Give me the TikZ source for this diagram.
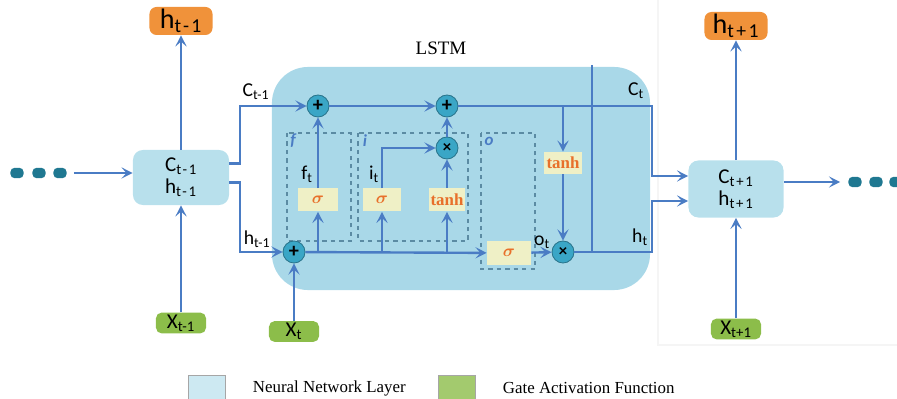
\documentclass[tikz,border=0pt]{standalone}
\usepackage{bm}
\usepackage{fontspec}
\setmainfont{Carlito}
\newfontfamily\seriffont{Liberation Serif}
\usetikzlibrary{positioning,arrows.meta,calc}
\definecolor{lstmblue}{HTML}{A9D8E8}
\definecolor{cellblue}{HTML}{B8E0EC}
\definecolor{linkblue}{HTML}{4A7CC4}
\definecolor{outorange}{HTML}{F0923A}
\definecolor{ingreen}{HTML}{8CBD4A}
\definecolor{opteal}{HTML}{3AA6C6}
\definecolor{actyellow}{HTML}{EFF0C6}
\definecolor{acttext}{HTML}{E8702A}
\definecolor{gatedash}{HTML}{5B8BA3}
\definecolor{dotteal}{HTML}{1F7891}
\newcommand{\sublbl}[2]{#1\textsubscript{#2}}
\newcommand{\widesub}[2]{#1\textsubscript{\addfontfeatures{LetterSpace=12}#2}}

\begin{document}
\begin{tikzpicture}[x=0.025cm,y=-0.025cm,
  flow/.style={-{Stealth[length=8pt,width=8pt,inset=3.5pt]},line width=1.7pt,draw=linkblue},
  link/.style={line width=1.7pt,draw=linkblue},
  cellbox/.style={fill=cellblue,rounded corners=7pt,align=center,inner sep=0pt,
    font=\fontsize{15}{15.5}\selectfont},
  outbox/.style={fill=outorange,rounded corners=5pt,inner sep=0pt,
    minimum width=1.575cm,minimum height=0.7cm,font=\fontsize{20}{21}\selectfont},
  inbox/.style={fill=ingreen,rounded corners=4pt,inner sep=0pt,
    minimum width=1.25cm,minimum height=0.52cm,font=\fontsize{15}{16}\selectfont},
  opnode/.style={circle,fill=opteal,draw=opteal!70!black,line width=0.6pt,
    minimum size=0.55cm,inner sep=0pt,font=\bfseries\Large},
  actbox/.style={fill=actyellow,inner sep=0pt,minimum height=0.575cm,
    text=acttext,font=\seriffont\bfseries\fontsize{12}{13}\selectfont},
  gatebox/.style={draw=gatedash,dashed,line width=0.9pt},
  gatelbl/.style={text=linkblue,font=\bfseries\itshape\fontsize{12}{13}\selectfont},
  lbl/.style={font=\fontsize{14}{15}\selectfont},
  seqdot/.style={fill=dotteal,rounded corners=3pt,minimum width=0.33cm,
    minimum height=0.26cm,inner sep=0pt}]
  \useasboundingbox (0,0) rectangle (897,399);
  % faint frame of the next step
  \draw[gray!8,line width=0.8pt] (658,0) -- (658,345) -- (897,345);
  % LSTM block
  \node[fill=lstmblue,rounded corners=0.9cm,minimum width=9.45cm,
    minimum height=5.575cm] (lstm) at (461,178.5) {};
  \node[font=\seriffont\fontsize{13.5}{14}\selectfont] (title) at (441,48) {LSTM};
  % gates
  \draw[gatebox] (287,133) rectangle (351,241);
  \draw[gatebox] (358,133) rectangle (468,241);
  \draw[gatebox] (481,133) rectangle (535,269);
  \node[gatelbl] (fg) at (293,141) {f};
  \node[gatelbl] (ig) at (365,141) {i};
  \node[gatelbl] (og) at (489,141) {o};
  % cells before and after
  \node[cellbox,minimum width=2.4cm,minimum height=1.375cm] (prev) at (181,177.5)
    {\widesub{C}{t-1}\\\widesub{h}{t-1}};
  \node[cellbox,minimum width=2.375cm,minimum height=1.425cm] (next) at (736,189)
    {\widesub{C}{t+1}\\\widesub{h}{t+1}};
  \node[outbox] (hprev) at (181,21) {\widesub{h}{t-1}};
  \node[outbox] (hnext) at (736,26) {\widesub{h}{t+1}};
  \node[inbox] (xprev) at (181,323) {\sublbl{X}{t-1}};
  \node[inbox] (xcur) at (294,331.5) {\sublbl{X}{t}};
  \node[inbox] (xnext) at (736,329) {\sublbl{X}{t+1}};
  % sequence dots
  \node[seqdot] (dl1) at (17,173) {};
  \node[seqdot] (dl2) at (39,173) {};
  \node[seqdot] (dl3) at (60,173) {};
  \node[seqdot] (dr1) at (855,182) {};
  \node[seqdot] (dr2) at (876,182) {};
  \node[seqdot] (dr3) at (896,182) {};
  % operations
  \node[opnode] (plusA) at (318,106) {+};
  \node[opnode] (plusB) at (447,106) {+};
  \node[opnode] (mulI) at (447,148) {\large ×};
  \node[opnode] (plusX) at (294,252) {+};
  \node[opnode] (mulO) at (563,252) {\large ×};
  \node[actbox,minimum width=0.975cm] (sigF) at (318,200) {$\bm{\sigma}$};
  \node[actbox,minimum width=0.95cm] (sigI) at (382,200) {$\bm{\sigma}$};
  \node[actbox,minimum width=0.9cm] (tanhI) at (447,200) {tanh};
  \node[actbox,minimum width=1.1cm,minimum height=0.6cm] (sigO) at (509,253) {$\bm{\sigma}$};
  \node[actbox,minimum width=0.95cm,minimum height=0.55cm] (tanhO) at (563,163) {tanh};
  % inputs and outputs of the cells
  \draw[flow] (dl3.east) ++(7,0) -- (prev.west |- dl3);
  \draw[flow] (xprev) -- (prev);
  \draw[flow] (prev) -- (hprev);
  \draw[flow] ($(prev.east)+(0,-14)$) -- ++(11,0) |- (plusA);
  \draw[flow] ($(prev.east)+(0,5)$) -- ++(11,0) |- (plusX);
  \draw[flow] (xcur) -- (plusX);
  \draw[flow] (xnext) -- (next);
  \draw[flow] (next) -- (hnext);
  \draw[flow] (next.east |- dr1) -- ($(dr1.west)+(-8,0)$);
  % cell state line
  \draw[flow] (plusA) -- (plusB);
  \draw[flow] (plusB) -| ($(next.west)+(-36,-13)$) -- ($(next.west)+(0,-13)$);
  \draw[flow] (tanhO |- plusB) -- (tanhO);
  \draw[flow] (tanhO) -- (mulO);
  % hidden line
  \draw[flow] (plusX) -- (sigO);
  \draw[flow] (sigF |- plusX) -- (sigF);
  \draw[flow] (sigI |- plusX) -- (sigI);
  \draw[flow] (tanhI |- plusX) -- (tanhI);
  \draw[flow] (sigF) -- (plusA);
  \draw[flow] (sigI) |- (mulI);
  \draw[flow] (tanhI) -- (mulI);
  \draw[flow] (mulI) -- (plusB);
  \draw[flow] (sigO) -- (mulO);
  \draw[flow] (mulO) -| ($(next.west)+(-36,12)$) -- ($(next.west)+(0,12)$);
  \coordinate (vtop) at (592,65);
  \draw[link] (vtop) -- (vtop |- mulO);
  % labels on the lines
  \node[lbl] (lc1) at (256,92) {\sublbl{C}{t-1}};
  \node[lbl] (lh1) at (257,239) {\sublbl{h}{t-1}};
  \node[lbl] (lc) at (636,91) {\sublbl{C}{t}};
  \node[lbl] (lh) at (640,237) {\sublbl{h}{t}};
  \node[lbl] (lf) at (307,174) {\sublbl{f}{t}};
  \node[lbl] (li) at (374,174) {\sublbl{i}{t}};
  \node[lbl] (lo) at (542,242) {\sublbl{o}{t}};
  % legend
  \draw[gray!70,fill=cellblue!70] (188,375) rectangle (225,402);
  \node[anchor=west,font=\seriffont\fontsize{12}{13}\selectfont] (leg1) at (248,388) {Neural Network Layer};
  \draw[gray!70,fill=ingreen!80] (438,375) rectangle (475,402);
  \node[anchor=west,font=\seriffont\fontsize{12}{13}\selectfont] (leg2) at (498,388) {Gate Activation Function};
\end{tikzpicture}
\end{document}
